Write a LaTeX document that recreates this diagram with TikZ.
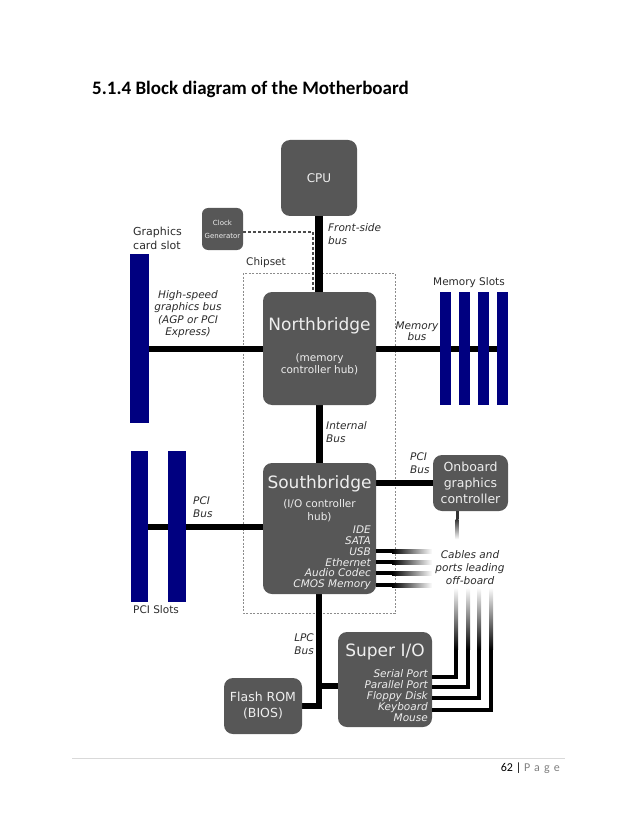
\documentclass[tikz,border=0pt]{standalone}
\usepackage{fontspec}
\setmainfont{DejaVu Sans}
\newfontfamily\headfont{Carlito}
\newfontfamily\pagefont[LetterSpace=35]{Carlito}
\usetikzlibrary{positioning, calc, backgrounds}

\definecolor{boxgray}{HTML}{575757}
\definecolor{boxtext}{HTML}{EEEEEE}
\definecolor{slotblue}{HTML}{000080}
\definecolor{labeltext}{HTML}{2B2B2B}

\begin{document}
\begin{tikzpicture}[x=1pt, y=-1pt,
    block/.style={fill=boxgray, rounded corners=9pt, inner sep=0pt, text=boxtext, align=center},
    slot/.style={fill=slotblue, inner sep=0pt},
    bus/.style={line width=6pt},
    cable/.style={line width=4pt},
    lbl/.style={inner sep=0pt, align=center, text=labeltext, font=\fontsize{10.5}{12.5}\selectfont},
    itlbl/.style={lbl, font=\fontsize{10.5}{12.5}\selectfont\itshape},
    inlbl/.style={inner sep=0pt, text=boxtext},
    bigname/.style={inlbl, font=\fontsize{17}{20}\selectfont}]
        \useasboundingbox (0,0) rectangle (638,826);

        % title and footer
        \node[anchor=base west, inner sep=0pt, font=\fontsize{19}{22}\headfont\bfseries] (title) at (92,95) {5.1.4 Block diagram of the Motherboard};
        \draw[line width=0.8pt, black!15] (72,758) -- (565,758);
        \node[anchor=base east, inner sep=0pt, font=\fontsize{12}{14}\headfont] (pagenum) at (560,771) {62 | \textcolor{black!50}{\pagefont Page}};

        % boxes
        \node[block, minimum width=76pt, minimum height=76pt, font=\fontsize{12}{14}\selectfont] (cpu) at (319,178) {CPU};
        \node[block, rounded corners=6pt, minimum width=41pt, minimum height=42pt, font=\fontsize{7}{13}\selectfont] (clk) at (222.5,229) {Clock\\Generator};
        \node[block, minimum width=113pt, minimum height=113pt] (nb) at (319.5,348.5) {};
        \node[block, minimum width=113pt, minimum height=131pt] (sb) at (319.5,528.5) {};
        \node[block, minimum width=75pt, minimum height=56pt, font=\fontsize{12.5}{16}\selectfont] (ogc) at (470.5,483) {Onboard\\graphics\\controller};
        \node[block, minimum width=94pt, minimum height=95pt] (sio) at (385,679.5) {};
        \node[block, minimum width=78pt, minimum height=56pt, font=\fontsize{12.5}{16}\selectfont] (rom) at (263,706) {Flash ROM\\(BIOS)};

        % slots
        \node[slot, minimum width=19pt, minimum height=169pt] (gslot) at (139.5,338.5) {};
        \node[slot, minimum width=17pt, minimum height=151pt] (pci1) at (139.5,526.5) {};
        \node[slot, minimum width=18pt, minimum height=151pt] (pci2) at (177,526.5) {};
        \foreach \i/\x in {1/445.5, 2/464.5, 3/483.5, 4/502.5}
            \node[slot, minimum width=11pt, minimum height=113pt] (mem\i) at (\x,348.5) {};

        \coordinate (clkturn) at (313,232);
        \coordinate (ogcout) at ($(ogc.south)+(-13.5,0)$);
        \coordinate (lpcsio) at ($(sio.west)+(0,6)$);

        \begin{scope}[on background layer]
            \draw[black!45, line width=1pt, dash pattern=on 2pt off 1.5pt] (243,273) rectangle (395,613);   %chipset
            \draw[black!70, line width=1.2pt, dash pattern=on 3pt off 2pt] (clk.east |- clkturn) -- (clkturn) -- (clkturn |- nb.north);
            \draw[line width=8pt] (cpu.south) -- (cpu.south |- nb.north);   %front-side
            \draw[bus] (nb.west) -- (nb.west -| gslot.east);   %agp
            \draw[bus] (nb.east) -- (nb.east -| mem4.center);  %memory
            \draw[line width=7pt] (cpu.south |- nb.south) -- (cpu.south |- sb.north);   %internal
            \draw[bus] (sb.west |- 0,527) -- (pci1.center |- 0,527);   %pci
            \draw[bus] (ogc.west -| sb.east) -- (ogc.west);
            \draw[bus] (cpu.south |- sb.south) |- (rom.east);   %lpc
            \draw[bus] (lpcsio) -- (lpcsio -| cpu.south);
        \end{scope}

        % cables leading off-board
        \foreach \dy in {22.5, 33.5, 44.5, 56.5} {
            \fill ($(sb.east)+(0,\dy-2)$) rectangle ($(sb.east)+(16,\dy+2)$);
            \shade[left color=black, right color=white] ($(sb.east)+(16,\dy-2)$) rectangle ($(sb.east)+(56,\dy+2)$);
        }
        \draw[line width=3pt, black!80] (ogcout) -- ++(0,8);
        \shade[top color=black!80, bottom color=white] ($(ogcout)+(-1.5,8)$) rectangle ($(ogcout)+(1.5,28)$);
        \foreach \dy/\dx in {-2.5/24, 7.5/36, 18.5/47, 30.5/59} {
            \draw[cable] ($(sio.east)+(0,\dy)$) -| ($(sio.east)+(\dx,-30)$);
            \shade[top color=white, bottom color=black] ($(sio.east)+(\dx-2,-92)$) rectangle ($(sio.east)+(\dx+2,-30)$);
        }

        % texts
        \node[itlbl, anchor=west, align=left] (fsblbl) at (328,234) {Front-side\\bus};
        \node[lbl, anchor=west, align=left, font=\fontsize{11}{14}\selectfont] (gslotlbl) at (133,238) {Graphics\\card slot};
        \node[lbl, anchor=west] (chiplbl) at (246,263) {Chipset};
        \node[itlbl] (agplbl) at (188,314) {High-speed\\graphics bus\\(AGP or PCI\\Express)};
        \node[bigname] (nbname) at (319.5,326) {Northbridge};
        \node[inlbl, align=center, font=\fontsize{10.5}{12.5}\selectfont] (nbsub) at (319.5,364) {(memory\\controller hub)};
        \node[itlbl, font=\fontsize{10.5}{11}\selectfont\itshape] (memlbl) at (417,331) {Memory\\bus};
        \node[lbl] (memslotlbl) at (469,283) {Memory Slots};
        \node[itlbl, anchor=west, align=left] (intlbl) at (326,432) {Internal\\Bus};
        \node[bigname] (sbname) at (319.5,484) {Southbridge};
        \node[inlbl, align=center, font=\fontsize{10.5}{13.5}\selectfont] (sbsub) at (319.5,510.5) {(I/O controller\\hub)};
        \node[inlbl, anchor=east, align=right, font=\fontsize{10.5}{10.8}\selectfont\itshape] (sblist) at (371,558) {IDE\\SATA\\USB\\Ethernet\\Audio Codec\\CMOS Memory};
        \node[itlbl, anchor=west, align=left] (pcilbl) at (193,507) {PCI\\Bus};
        \node[lbl, anchor=west] (pcislotlbl) at (133,610) {PCI Slots};
        \node[itlbl, anchor=west, align=left] (ogcpcilbl) at (410,463) {PCI\\Bus};
        \node[itlbl, font=\fontsize{10.5}{13}\selectfont\itshape] (cablelbl) at (470,568) {Cables and\\ports leading\\off-board};
        \node[itlbl, anchor=east, align=right] (lpclbl) at (314,644) {LPC\\Bus};
        \node[bigname] (sioname) at (385,652) {Super I/O};
        \node[inlbl, anchor=east, align=right, font=\fontsize{10.5}{11.2}\selectfont\itshape] (siolist) at (428,695.5) {Serial Port\\Parallel Port\\Floppy Disk\\Keyboard\\Mouse};
      \end{tikzpicture}
\end{document}
